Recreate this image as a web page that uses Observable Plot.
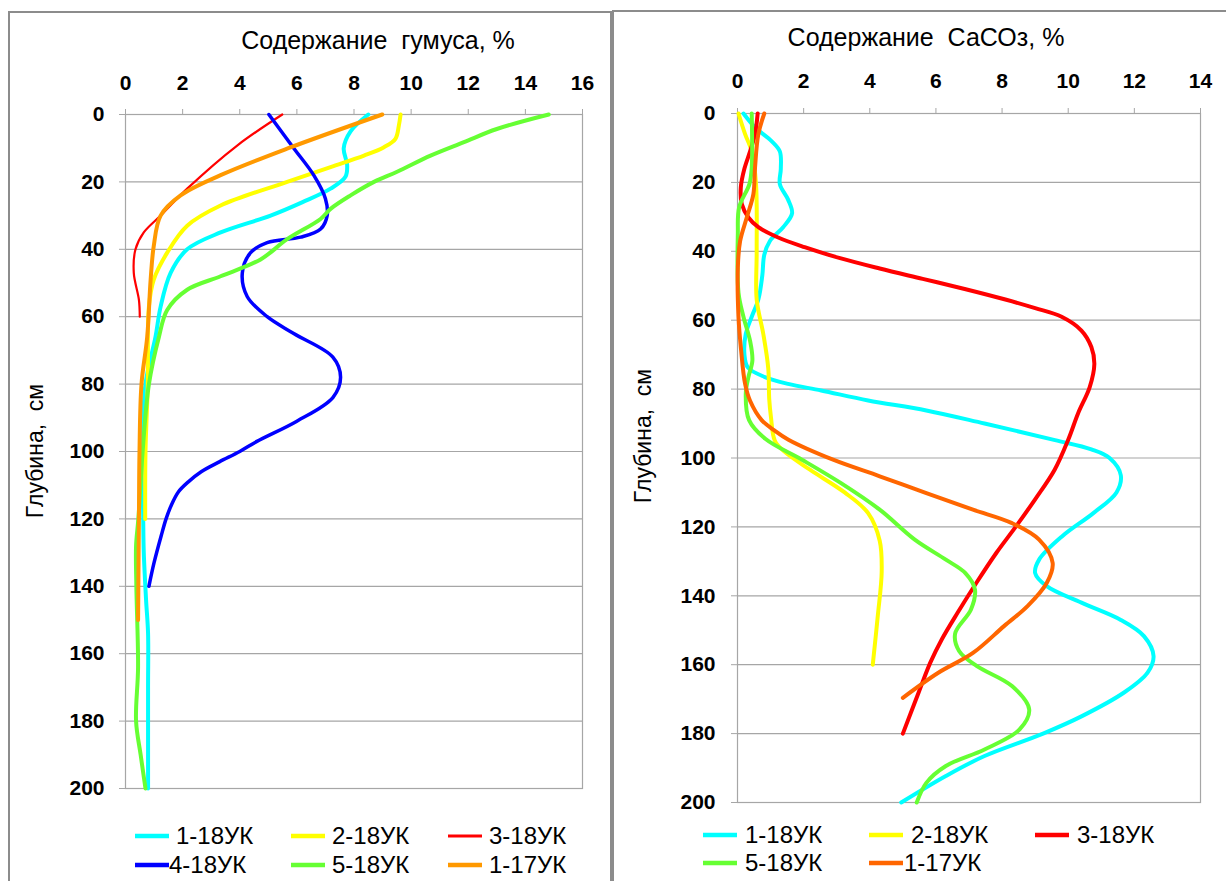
<!DOCTYPE html>
<html>
<head>
<meta charset="utf-8">
<script src="https://cdn.jsdelivr.net/npm/d3@7"></script>
<script src="https://cdn.jsdelivr.net/npm/@observablehq/plot@0.6"></script>
<style>
  body { margin: 0; background: #fff; }
  #page { position: relative; width: 1226px; height: 881px; overflow: hidden; background: #fff;
          font-family: "Liberation Sans", Arial, sans-serif; }
</style>
</head>
<body>
<div id="page"></div>
<script>
// ---------- Humus (left panel) ----------
const humusNames  = ["1-18УК", "2-18УК", "3-18УК", "4-18УК", "5-18УК", "1-17УК"];
const humusColors = ["#00FFFF", "#FFFF00", "#FF0000", "#0000FF", "#66FF33", "#FF9900"];
const humusXTicks = [0, 2, 4, 6, 8, 10, 12, 14, 16];
const depthTicks  = [0, 20, 40, 60, 80, 100, 120, 140, 160, 180, 200];

const h1_18_d = [0, 5, 10, 15, 18.5, 22, 26, 30, 35, 40, 47, 57, 66, 80, 100, 120, 130, 144, 154, 170, 200];
const h1_18_v = [8.5, 7.88, 7.64, 7.76, 7.7, 7.18, 6.2, 5.08, 3.33, 2.16, 1.58, 1.23, 1.05, 0.7, 0.6, 0.62, 0.64, 0.72, 0.79, 0.79, 0.79];
const h2_18_d = [0, 3.3, 7.2, 9.7, 12.2, 15.6, 20, 27, 33, 41, 49, 57, 80, 100, 120];
const h2_18_v = [9.63, 9.57, 9.45, 9.05, 8.35, 7.18, 5.66, 3.33, 2.16, 1.46, 0.99, 0.82, 0.78, 0.7, 0.69];
const h3_18_d = [0, 9.2, 22, 30, 35, 40, 47, 55, 60];
const h3_18_v = [5.49, 3.91, 2.16, 1.23, 0.64, 0.35, 0.29, 0.47, 0.5];
const h4_18_d = [0, 10, 18, 25, 30, 34, 36.4, 38, 41, 47, 54, 60, 65, 72, 78, 84, 91, 97, 100, 103, 106, 109, 112, 116, 120, 125, 133, 140];
const h4_18_v = [5.02, 5.89, 6.59, 7.0, 7.06, 6.83, 6.13, 4.96, 4.38, 4.09, 4.26, 4.96, 5.89, 7.26, 7.53, 7.26, 6.0, 4.6, 4.0, 3.3, 2.65, 2.2, 1.85, 1.6, 1.42, 1.25, 1.0, 0.82];
const h5_18_d = [0, 4.3, 8.2, 12.2, 17, 20, 24, 28, 31, 37, 43, 48, 52, 58, 66, 80, 100, 120, 128, 140, 164, 180, 190, 200];
const h5_18_v = [14.82, 13.0, 11.85, 10.68, 9.51, 8.7, 7.88, 7.18, 6.83, 5.66, 4.73, 3.33, 2.16, 1.46, 1.17, 0.82, 0.6, 0.45, 0.37, 0.38, 0.44, 0.37, 0.53, 0.7];
const h1_17_d = [0, 10, 18, 24, 30, 39, 49, 66, 80, 100, 120, 150];
const h1_17_v = [8.99, 5.7, 3.33, 1.93, 1.23, 0.99, 0.88, 0.76, 0.56, 0.49, 0.47, 0.44];

// ---------- CaCO3 (right panel) ----------
const carbNames  = ["1-18УК", "2-18УК", "3-18УК", "5-18УК", "1-17УК"];
const carbColors = ["#00FFFF", "#FFFF00", "#FF0000", "#66FF33", "#FF6600"];
const carbXTicks = [0, 2, 4, 6, 8, 10, 12, 14];

const c1_18_d = [0, 4, 8, 11, 16, 20.5, 25, 29, 33, 37, 41, 47, 54, 59, 64, 70, 73.7, 76.5, 78.5, 80.4, 83.3, 86.2, 90, 94.8, 97.5, 100, 105, 110, 116, 122.7, 129.5, 133.4, 137.2, 142, 147, 151.7, 157.5, 162.3, 168, 175, 180, 186.5, 192.3, 200];
const c1_18_v = [0.18, 0.53, 1.03, 1.28, 1.31, 1.28, 1.53, 1.65, 1.38, 0.98, 0.81, 0.75, 0.63, 0.43, 0.25, 0.21, 0.31, 0.83, 1.53, 2.53, 3.95, 5.71, 7.47, 9.6, 10.7, 11.25, 11.59, 11.46, 10.76, 9.82, 9.12, 9.0, 9.35, 10.4, 11.59, 12.29, 12.58, 12.4, 11.7, 10.4, 9.24, 7.47, 6.3, 4.95];
const c2_18_d = [0, 6, 11, 20.5, 40, 54, 64, 74, 83, 88, 95, 98, 103.4, 110, 116, 124, 133, 146, 160];
const c2_18_v = [0.03, 0.23, 0.43, 0.56, 0.58, 0.58, 0.78, 0.93, 0.96, 1.01, 1.13, 1.4, 2.19, 3.24, 3.95, 4.3, 4.36, 4.24, 4.09];
const c3_18_d = [0, 6, 11, 16, 21.5, 26.3, 30.2, 33, 36, 38.8, 42, 45, 48, 51, 54, 56.5, 59, 63, 67.8, 72.7, 79.4, 87, 94.7, 103.4, 112, 120, 127.5, 136, 145, 152.6, 159.4, 168, 180];
const c3_18_v = [0.61, 0.53, 0.38, 0.21, 0.1, 0.13, 0.33, 0.63, 1.23, 2.03, 3.1, 4.3, 5.6, 6.9, 8.1, 9.0, 9.8, 10.4, 10.7, 10.79, 10.65, 10.3, 10.0, 9.59, 9.0, 8.41, 7.83, 7.24, 6.65, 6.18, 5.83, 5.48, 5.0];
const c5_18_d = [0, 15.7, 20.5, 27.2, 35, 52, 59, 66, 71.7, 76.5, 81.4, 89, 94.5, 100.5, 107.3, 115, 123.7, 129.5, 133.4, 138.2, 144, 151, 156, 160.4, 166.2, 173, 178.8, 184.6, 189.4, 194.3, 200];
const c5_18_v = [0.43, 0.43, 0.36, 0.05, 0.01, 0.03, 0.18, 0.38, 0.45, 0.33, 0.25, 0.35, 0.85, 1.95, 3.13, 4.3, 5.36, 6.3, 6.89, 7.18, 7.06, 6.58, 6.7, 7.24, 8.3, 8.82, 8.53, 7.47, 6.3, 5.71, 5.42];
const c1_17_d = [0, 6, 15.7, 23.4, 30.2, 37, 44.6, 59, 68.8, 78.5, 83.4, 89, 91.9, 94.7, 100.5, 105.3, 110.2, 115, 118.9, 123.7, 130.5, 136.3, 143, 148.8, 156.6, 162.4, 169.6];
const c1_17_v = [0.81, 0.63, 0.53, 0.48, 0.28, 0.08, 0.01, 0.03, 0.11, 0.23, 0.38, 0.73, 1.1, 1.54, 2.89, 4.3, 5.71, 7.12, 8.3, 9.12, 9.53, 9.35, 8.77, 8.06, 7.12, 6.06, 5.0];

// ---------- build tables ----------
function rows(name, ds, vs) { return ds.map((d, i) => ({s: name, d, v: vs[i]})); }
const humusData = [
  rows(humusNames[0], h1_18_d, h1_18_v), rows(humusNames[1], h2_18_d, h2_18_v),
  rows(humusNames[2], h3_18_d, h3_18_v), rows(humusNames[3], h4_18_d, h4_18_v),
  rows(humusNames[4], h5_18_d, h5_18_v), rows(humusNames[5], h1_17_d, h1_17_v)
];
const carbData = [
  rows(carbNames[0], c1_18_d, c1_18_v), rows(carbNames[1], c2_18_d, c2_18_v),
  rows(carbNames[2], c3_18_d, c3_18_v), rows(carbNames[3], c5_18_d, c5_18_v),
  rows(carbNames[4], c1_17_d, c1_17_v)
];

const FONT = '"Liberation Sans", Arial, sans-serif';
const GRID = "#a6a6a6";

function panel({width, height, ml, mr, mt, mb, xmax, xticks, data, colors, widths, padX, padY}) {
  return Plot.plot({
    width, height, marginLeft: ml, marginRight: mr, marginTop: mt, marginBottom: mb,
    style: {background: "transparent", fontFamily: FONT, fontSize: "21px", fontWeight: "bold", color: "black", overflow: "visible"},
    x: {domain: [0, xmax]},
    y: {domain: [0, 200], reverse: true},
    marks: [
      Plot.gridY(depthTicks, {stroke: GRID, strokeOpacity: 1, strokeWidth: 1.2}),
      Plot.frame({stroke: GRID, strokeWidth: 1.2}),
      Plot.axisX(xticks, {anchor: "top", tickSize: 6, tickPadding: padX, stroke: GRID, fill: "black", label: null, fontSize: 21, fontWeight: "bold"}),
      Plot.axisY(depthTicks, {anchor: "left", tickSize: 6, tickPadding: padY, stroke: GRID, fill: "black", label: null, fontSize: 21, fontWeight: "bold"}),
      ...data.map((ser, i) => Plot.line(ser, {x: "v", y: "d", stroke: colors[i], strokeWidth: widths[i], curve: "catmull-rom"}))
    ]
  });
}

const page = document.getElementById("page");

const left = panel({width: 612, height: 800, ml: 125, mr: 30, mt: 114, mb: 12, xmax: 16, xticks: humusXTicks,
  data: humusData, colors: humusColors, widths: [4, 4, 2.2, 3.5, 4, 4], padX: 19, padY: 15});
left.style.position = "absolute"; left.style.left = "0px"; left.style.top = "0px";
page.appendChild(left);

const right = panel({width: 613, height: 820, ml: 124, mr: 26, mt: 113, mb: 18, xmax: 14, xticks: carbXTicks,
  data: carbData, colors: carbColors, widths: [4, 4, 4, 4, 4], padX: 20, padY: 16});
right.style.position = "absolute"; right.style.left = "613px"; right.style.top = "0px";
page.appendChild(right);

// ---------- overlay: frames, titles, axis labels, legends ----------
const ov = d3.select(page).append("svg")
  .attr("width", 1226).attr("height", 881)
  .style("position", "absolute").style("left", "0px").style("top", "0px")
  .style("font-family", FONT);

ov.append("rect").attr("x", 9).attr("y", 12).attr("width", 602).attr("height", 900)
  .attr("fill", "none").attr("stroke", "#8c8c8c").attr("stroke-width", 2);
ov.append("rect").attr("x", 613).attr("y", 11).attr("width", 700).attr("height", 900)
  .attr("fill", "none").attr("stroke", "#8c8c8c").attr("stroke-width", 2);

ov.append("text").attr("x", 378).attr("y", 49).attr("text-anchor", "middle")
  .attr("font-size", 25).style("white-space", "pre").text("Содержание  гумуса, %");
ov.append("text").attr("x", 926).attr("y", 46).attr("text-anchor", "middle")
  .attr("font-size", 25).style("white-space", "pre").text("Содержание  СаСОз, %");

ov.append("text").attr("transform", "translate(43,451) rotate(-90)").attr("text-anchor", "middle")
  .attr("font-size", 23).style("white-space", "pre").text("Глубина,  см");
ov.append("text").attr("transform", "translate(651,436) rotate(-90)").attr("text-anchor", "middle")
  .attr("font-size", 23).style("white-space", "pre").text("Глубина,  см");

function legend(names, colors, widths, cols, rowsY, gaps) {
  names.forEach((n, i) => {
    const c = i % 3, r = Math.floor(i / 3);
    const x0 = cols[c], y = rowsY[r];
    ov.append("line").attr("x1", x0).attr("x2", x0 + 34).attr("y1", y).attr("y2", y)
      .attr("stroke", colors[i]).attr("stroke-width", widths[i]);
    ov.append("text").attr("x", x0 + 34 + gaps[i]).attr("y", y + 8).attr("font-size", 24).text(n);
  });
}
legend(humusNames, humusColors, [4.5, 4.5, 2.8, 4.5, 4.5, 4.5], [135, 291, 448], [836, 865], [7, 7, 7, 0, 7, 7]);
legend(carbNames, carbColors, [4.5, 4.5, 4.5, 4.5, 4.5], [703, 869, 1035], [835, 863], [8, 8, 8, 8, 1]);
</script>
</body>
</html>
